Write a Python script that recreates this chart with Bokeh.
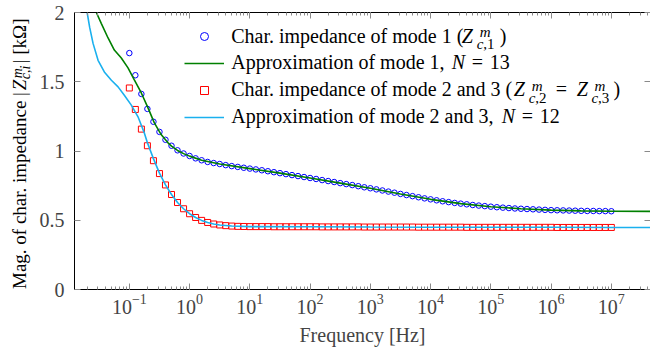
import numpy as np
from bokeh.plotting import figure
from bokeh.layouts import row
from bokeh.models import (Range1d, LogAxis, LinearAxis, LogTicker, SingleIntervalTicker,
                          NumeralTickFormatter, Legend, LegendItem, Label)
from bokeh.embed import file_html
from bokeh.resources import INLINE

# ---------------- data ----------------
# measured frequencies: 10 points per decade, 0.1 Hz ... 10 MHz
freq = np.logspace(-1, 7, 81)

mode1 = [1.707, 1.547, 1.412, 1.304, 1.211, 1.138, 1.081, 1.038, 1.005, 0.982, 0.964,
         0.947, 0.933, 0.921, 0.913, 0.906, 0.898, 0.891, 0.885, 0.879, 0.873,
         0.867, 0.861, 0.854, 0.847, 0.840, 0.833, 0.826, 0.819, 0.812, 0.805,
         0.798, 0.790, 0.783, 0.776, 0.768, 0.761, 0.754, 0.746, 0.738, 0.731,
         0.723, 0.715, 0.707, 0.699, 0.690, 0.682, 0.674, 0.666, 0.658, 0.651,
         0.644, 0.637, 0.631, 0.625, 0.620, 0.615, 0.610, 0.606, 0.602, 0.598,
         0.594, 0.591, 0.588, 0.585, 0.583, 0.581, 0.579, 0.577, 0.575, 0.573,
         0.572, 0.571, 0.570, 0.569, 0.568, 0.567, 0.567, 0.566, 0.566, 0.565]

mode23 = [1.455, 1.300, 1.158, 1.038, 0.930, 0.837, 0.755, 0.686, 0.628, 0.583, 0.547,
          0.520, 0.499, 0.484, 0.473, 0.466, 0.461, 0.458, 0.456, 0.455, 0.454,
          0.454, 0.454, 0.454, 0.453, 0.453, 0.453, 0.453, 0.453, 0.453, 0.453,
          0.453, 0.452, 0.452, 0.452, 0.452, 0.452, 0.452, 0.452, 0.451, 0.451,
          0.451, 0.451, 0.451, 0.451, 0.451, 0.451, 0.451, 0.450, 0.450, 0.450,
          0.450, 0.450, 0.450, 0.450, 0.450, 0.449, 0.449, 0.449, 0.449, 0.449,
          0.449, 0.449, 0.449, 0.449, 0.449, 0.449, 0.449, 0.449, 0.449, 0.449,
          0.448, 0.448, 0.448, 0.448, 0.448, 0.448, 0.448, 0.448, 0.448, 0.448]

# rational approximations (log10 of frequency, value)
fit1_exp = [-1.65, -1.547, -1.464, -1.353, -1.249, -1.133, -1.022, -0.917, -0.801, -0.690,
            -0.585, -0.469, -0.358, -0.3, -0.2, -0.1, 0.0, 0.2, 0.5, 1.0, 1.5, 2.0, 2.5,
            3.0, 3.5, 4.0, 4.5, 5.0, 5.5, 6.0, 6.5, 7.0, 7.7]
fit1 = [2.10, 2.00, 1.92, 1.816, 1.729, 1.671, 1.600, 1.513, 1.419, 1.311,
        1.203, 1.117, 1.059, 1.035, 1.004, 0.981, 0.963, 0.933, 0.906, 0.873, 0.840, 0.805, 0.768,
        0.731, 0.690, 0.651, 0.620, 0.598, 0.583, 0.573, 0.568, 0.565, 0.564]

fit23_exp = [-1.75, -1.70, -1.658, -1.602, -1.519, -1.415, -1.298, -1.187, -1.083, -0.967,
             -0.856, -0.751, -0.7, -0.6, -0.5, -0.4, -0.3, -0.2, -0.1, 0.0, 0.1, 0.2, 0.3,
             0.4, 0.5, 0.7, 1.0, 2.0, 3.0, 4.0, 5.0, 6.0, 7.0, 7.7]
fit23 = [2.13, 2.00, 1.892, 1.777, 1.655, 1.571, 1.511, 1.463, 1.403, 1.331,
         1.247, 1.130, 1.060, 0.945, 0.840, 0.755, 0.686, 0.628, 0.583, 0.547, 0.520, 0.499, 0.484,
         0.473, 0.466, 0.458, 0.454, 0.453, 0.451, 0.450, 0.449, 0.449, 0.448, 0.448]

fit1_freq = [10 ** e for e in fit1_exp]
fit23_freq = [10 ** e for e in fit23_exp]

y_ticks_interval = 0.5

# ---------------- layout ----------------
W, H = 650, 348
LW = 36                              # width of the strip holding the y title
X0, X1 = -1.91, 7.65                 # log10 of x range
FL, FR, FT, FB = 73, 650, 12, 290    # frame edges in page pixels
FONT = "Liberation Serif"
SHIFT = 0.38                         # baseline correction, fraction of font size


def px(xp):
    return 10 ** (X0 + (xp - FL) * (X1 - X0) / (FR - FL))


def py(yp):
    return (FB - yp) * 2.0 / (FB - FT)


p = figure(width=W - LW, height=H, x_axis_type="log",
           x_range=Range1d(10 ** X0, 10 ** X1), y_range=Range1d(0, 2),
           output_backend="svg", toolbar_location=None,
           min_border_left=FL - LW, min_border_right=0, min_border_top=FT,
           min_border_bottom=H - FB)
p.xgrid.visible = False
p.ygrid.visible = False
p.outline_line_color = None
p.background_fill_color = "white"
p.border_fill_color = "white"

TICK = "#8a8a8a"

xa = p.xaxis[0]
xa.ticker = LogTicker(desired_num_ticks=10, num_minor_ticks=10)
xa.axis_label = "Frequency [Hz]"
xa.axis_label_text_font = FONT
xa.axis_label_text_font_size = "20px"
xa.axis_label_text_font_style = "normal"
xa.axis_label_standoff = 7
xa.major_label_text_font = FONT
xa.major_label_text_font_size = "20px"
xa.major_label_standoff = 4
xa.major_tick_in = 6
xa.major_tick_out = 0
xa.minor_tick_in = 3
xa.minor_tick_out = 0
xa.major_tick_line_color = TICK
xa.minor_tick_line_color = TICK
xa.axis_line_color = "black"

ya = p.yaxis[0]
ya.ticker = SingleIntervalTicker(interval=y_ticks_interval, num_minor_ticks=0)
ya.formatter = NumeralTickFormatter(format="0.[0]")
ya.major_label_text_font = FONT
ya.major_label_text_font_size = "20px"
ya.major_label_standoff = 10
ya.major_tick_in = 6
ya.major_tick_out = 0
ya.minor_tick_line_color = None
ya.major_tick_line_color = TICK
ya.axis_line_color = "black"

top = LogAxis(ticker=LogTicker(desired_num_ticks=10, num_minor_ticks=10),
              major_label_text_font_size="1px", major_label_text_color=None,
              major_label_standoff=0,
              major_tick_in=6, major_tick_out=0, minor_tick_in=3, minor_tick_out=0,
              major_tick_line_color=TICK, minor_tick_line_color=TICK,
              axis_line_color="black")
p.add_layout(top, "above")
right = LinearAxis(ticker=SingleIntervalTicker(interval=y_ticks_interval, num_minor_ticks=0),
                   major_label_text_font_size="1px", major_label_text_color=None,
                   major_label_standoff=0,
                   major_tick_in=6, major_tick_out=0, minor_tick_line_color=None,
                   major_tick_line_color=TICK, axis_line_color=None)
p.add_layout(right, "right")

# ---------------- series ----------------
r1 = p.scatter(freq, mode1, marker="circle", size=5.5, fill_color=None,
               line_color="#0000ff", line_width=1)
r2 = p.line(fit1_freq, fit1, line_color="#008000", line_width=1.6)
r3 = p.scatter(freq, mode23, marker="square", size=6, fill_color=None,
               line_color="#ff0000", line_width=1)
r4 = p.line(fit23_freq, fit23, line_color="#1ab0ee", line_width=1.6)

legend = Legend(items=[LegendItem(label=" ", renderers=[r]) for r in (r1, r2, r3, r4)],
                location=(110, 162), glyph_width=40, glyph_height=20, label_height=20,
                label_width=1, label_standoff=0, spacing=7, padding=0, margin=0,
                border_line_color=None, background_fill_alpha=0,
                label_text_font_size="8px")
p.add_layout(legend)


def txt(x, y, s, size=20, style="normal"):
    """horizontal text; (x, y) = page pixel of the start of the baseline"""
    p.add_layout(Label(x=px(x), y=py(y - SHIFT * size), text=s, text_font=FONT,
                       text_font_size=f"{size}px", text_font_style=style,
                       text_align="left", text_baseline="alphabetic", text_color="black"))


SS = 15
# legend row 1
b = 42.7
txt(230, b, "Char. impedance of mode 1 (")
txt(461, b, "Z", style="italic")
txt(479, b - 5.5, "m", SS, "italic")
txt(476, b + 7, "c", SS, "italic")
txt(482.5, b + 7, ",1", SS)
txt(499, b, ")")
# legend row 2
b = 69.5
txt(230, b, "Approximation of mode 1,")
txt(451, b, "N", style="italic")
txt(471, b, "=")
txt(489, b, "13")
# legend row 3
b = 96.5
txt(230, b, "Char. impedance of mode 2 and 3 (")
txt(513, b, "Z", style="italic")
txt(531, b - 5.5, "m", SS, "italic")
txt(528, b + 7, "c", SS, "italic")
txt(534.5, b + 7, ",2", SS)
txt(555, b, "=")
txt(576, b, "Z", style="italic")
txt(594, b - 5.5, "m", SS, "italic")
txt(591, b + 7, "c", SS, "italic")
txt(597.5, b + 7, ",3", SS)
txt(613, b, ")")
# legend row 4
b = 123.3
txt(230, b, "Approximation of mode 2 and 3,")
txt(501, b, "N", style="italic")
txt(521, b, "=")
txt(539, b, "12")

# ---------------- y title strip (page-pixel coordinates) ----------------
q = figure(width=LW, height=H, x_range=Range1d(0, LW), y_range=Range1d(FB, FT),
           output_backend="svg", toolbar_location=None,
           x_axis_location=None, y_axis_location=None,
           min_border_left=0, min_border_right=0, min_border_top=FT,
           min_border_bottom=H - FB)
q.xgrid.visible = False
q.ygrid.visible = False
q.outline_line_color = None
q.background_fill_color = "white"
q.border_fill_color = "white"


def vtxt(x, y, s, size=19, style="normal"):
    """text rotated by 90 deg; x = page pixel of its baseline, y = page pixel of its start"""
    q.add_layout(Label(x=x - SHIFT * size, y=y, text=s, text_font=FONT,
                       text_font_size=f"{size}px", text_font_style=style,
                       text_align="left", text_baseline="alphabetic",
                       angle=np.pi / 2, text_color="black"))


bx = 26.5
vtxt(bx, 289.5, "Mag. of char. impedance |")
vtxt(bx, 90, "Z", style="italic")
vtxt(bx - 4.5, 78, "m", 14, "italic")
vtxt(bx + 3.5, 79, "c,i", 14, "italic")
vtxt(bx, 63, "| [kΩ]")

layout = row(q, p, spacing=0)
open("out.html", "w").write(file_html(layout, INLINE))
